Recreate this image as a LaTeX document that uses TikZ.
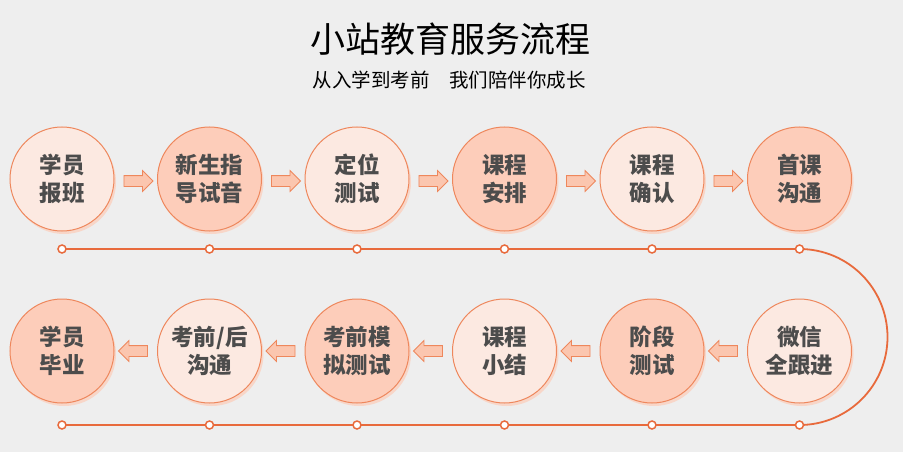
\documentclass[tikz,border=0pt]{standalone}
\usepackage{fontspec}
\newfontfamily\cjk{Noto Sans CJK SC}
\usetikzlibrary{calc,shapes.arrows,shadows}
\definecolor{bggray}{HTML}{EEEEEE}
\definecolor{lineorange}{HTML}{E86A3C}
\definecolor{ringorange}{HTML}{EE875C}
\definecolor{palefill}{HTML}{FCE9E1}
\definecolor{peachfill}{HTML}{FDCDBA}
\definecolor{shadowpink}{HTML}{F8D6C8}
\definecolor{arrowfill}{HTML}{FBC6AF}
\definecolor{textgray}{HTML}{4C4C4C}

\begin{document}
\begin{tikzpicture}[
    x=1pt, y=-1pt,
    stage/.style={circle, draw=ringorange, line width=1pt, minimum size=104pt, inner sep=0pt, align=center, text=textgray, font=\cjk\bfseries\fontsize{22.5}{28}\selectfont, drop shadow={shadow xshift=2pt, shadow yshift=-3pt, fill=shadowpink, opacity=1}},
    pale/.style={stage, fill=palefill},
    peach/.style={stage, fill=peachfill},
    flowarrow/.style={single arrow, draw=ringorange, fill=arrowfill, line width=0.8pt, minimum height=29pt, single arrow head extend=5pt, inner xsep=0pt, inner ysep=5pt},
    dot/.style={circle, draw=lineorange, fill=white, line width=1.5pt, minimum size=8pt, inner sep=0pt},
    timeline/.style={draw=lineorange, line width=1.8pt}
]
\fill[bggray] (0,0) rectangle (903,452);

% heading
\node[font=\cjk\fontsize{35}{40}\selectfont] (title) at (450,39) {小站教育服务流程};
\node[font=\cjk\fontsize{19.5}{22}\selectfont] (subtitle) at (449,80) {从入学到考前　我们陪伴你成长};

% first row
\node[pale]  (baoban)  at (62,179)    {学员\\报班};
\node[peach] (zhidao)  at (209.5,179) {新生指\\导试音};
\node[pale]  (dingwei) at (357,179)   {定位\\测试};
\node[peach] (anpai)   at (504.5,179) {课程\\安排};
\node[pale]  (queren)  at (652,179)   {课程\\确认};
\node[peach] (goutong) at (799.5,179) {首课\\沟通};

% second row
\node[peach] (biye)    at (62,351)    {学员\\毕业};
\node[pale]  (kaoqian) at (209.5,351) {考前/后\\沟通};
\node[peach] (moni)    at (357,351)   {考前模\\拟测试};
\node[pale]  (xiaojie) at (504.5,351) {课程\\小结};
\node[peach] (jieduan) at (652,351)   {阶段\\测试};
\node[pale]  (weixin)  at (799.5,351) {微信\\全跟进};

% arrows
\node[flowarrow] (a1) at ($(baoban)!.5!(zhidao)+(0,2)$) {};
\node[flowarrow] (a2) at ($(zhidao)!.5!(dingwei)+(0,2)$) {};
\node[flowarrow] (a3) at ($(dingwei)!.5!(anpai)+(0,2)$) {};
\node[flowarrow] (a4) at ($(anpai)!.5!(queren)+(0,2)$) {};
\node[flowarrow] (a5) at ($(queren)!.5!(goutong)+(0,2)$) {};
\node[flowarrow, shape border rotate=180] (a6) at ($(weixin)!.5!(jieduan)$) {};
\node[flowarrow, shape border rotate=180] (a7) at ($(jieduan)!.5!(xiaojie)$) {};
\node[flowarrow, shape border rotate=180] (a8) at ($(xiaojie)!.5!(moni)$) {};
\node[flowarrow, shape border rotate=180] (a9) at ($(moni)!.5!(kaoqian)$) {};
\node[flowarrow, shape border rotate=180] (a10) at ($(kaoqian)!.5!(biye)$) {};

% timeline
\coordinate (t1) at (62,249);
\coordinate (t2) at (209.5,249);
\coordinate (t3) at (357,249);
\coordinate (t4) at (504.5,249);
\coordinate (t5) at (652,249);
\coordinate (t6) at (799.5,249);
\coordinate (u1) at (62,425);
\coordinate (u2) at (209.5,425);
\coordinate (u3) at (357,425);
\coordinate (u4) at (504.5,425);
\coordinate (u5) at (652,425);
\coordinate (u6) at (799.5,425);
\draw[timeline] (t1) -- (t6) arc[start angle=90, end angle=-90, radius=88pt] -- (u1);
\foreach \p in {t1,t2,t3,t4,t5,t6,u1,u2,u3,u4,u5,u6}
    \node[dot] at (\p) {};
\end{tikzpicture}
\end{document}
